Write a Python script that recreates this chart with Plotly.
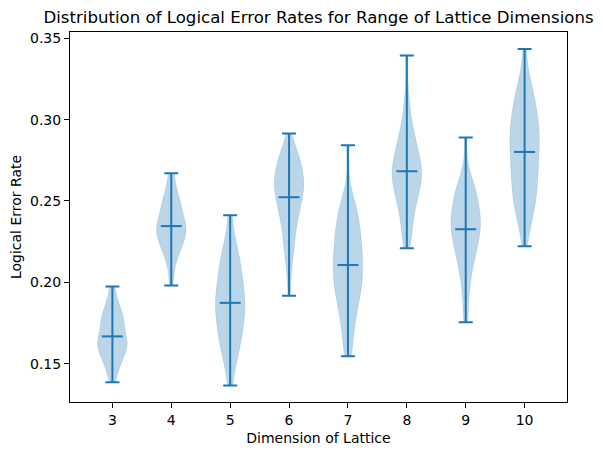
import plotly.graph_objects as go
import numpy as np

# Lattice dimensions and sampled logical error rates (estimated from the chart)
dims = [3, 4, 5, 6, 7, 8, 9, 10]

rates_3 = [0.1385, 0.1425, 0.1465, 0.1485, 0.151, 0.153, 0.1545, 0.1555, 0.157, 0.1585,
           0.1595, 0.1605, 0.1615, 0.1625, 0.1635, 0.1645, 0.1655, 0.1665, 0.168, 0.1695,
           0.171, 0.173, 0.1745, 0.176, 0.1765, 0.178, 0.1795, 0.1815, 0.1835, 0.1855,
           0.1875, 0.192, 0.1974]
rates_4 = [0.198, 0.2075, 0.2125, 0.2165, 0.2185, 0.221, 0.2225, 0.224, 0.2255, 0.227,
           0.2285, 0.2295, 0.231, 0.232, 0.233, 0.234, 0.2345, 0.236, 0.2375, 0.239,
           0.2405, 0.2425, 0.2445, 0.246, 0.248, 0.2495, 0.2515, 0.2535, 0.2575, 0.2625,
           0.2671]
rates_5 = [0.1366, 0.146, 0.153, 0.157, 0.1585, 0.162, 0.165, 0.168, 0.170, 0.172,
           0.175, 0.1775, 0.1795, 0.181, 0.183, 0.185, 0.187, 0.189, 0.191, 0.193,
           0.195, 0.197, 0.199, 0.202, 0.205, 0.2075, 0.2095, 0.2125, 0.2155, 0.2185,
           0.2235, 0.2275, 0.2413]
rates_6 = [0.1918, 0.206, 0.213, 0.218, 0.222, 0.225, 0.228, 0.232, 0.235, 0.238,
           0.24, 0.241, 0.243, 0.245, 0.247, 0.249, 0.251, 0.252, 0.254, 0.255,
           0.256, 0.257, 0.258, 0.259, 0.261, 0.262, 0.263, 0.264, 0.266, 0.267,
           0.268, 0.269, 0.271, 0.273, 0.275, 0.276, 0.278, 0.279, 0.281, 0.284,
           0.2915]
rates_7 = [0.1545, 0.160, 0.166, 0.173, 0.177, 0.182, 0.185, 0.188, 0.191, 0.194,
           0.196, 0.199, 0.200, 0.201, 0.204, 0.206, 0.209, 0.211, 0.213, 0.215,
           0.217, 0.219, 0.221, 0.224, 0.226, 0.229, 0.231, 0.234, 0.236, 0.239,
           0.242, 0.245, 0.248, 0.252, 0.2842]
rates_8 = [0.221, 0.227, 0.232, 0.235, 0.242, 0.245, 0.248, 0.251, 0.253, 0.255,
           0.257, 0.259, 0.261, 0.263, 0.265, 0.267, 0.268, 0.268, 0.269, 0.271,
           0.273, 0.275, 0.277, 0.279, 0.282, 0.285, 0.287, 0.289, 0.293, 0.297,
           0.305, 0.315, 0.3395]
rates_9 = [0.1754, 0.186, 0.196, 0.203, 0.207, 0.212, 0.215, 0.218, 0.221, 0.223,
           0.225, 0.227, 0.229, 0.231, 0.233, 0.235, 0.236, 0.238, 0.239, 0.241,
           0.243, 0.245, 0.247, 0.249, 0.252, 0.255, 0.256, 0.258, 0.262, 0.265,
           0.2891]
rates_10 = [0.2222, 0.233, 0.237, 0.242, 0.245, 0.248, 0.25, 0.252, 0.255, 0.258,
            0.26, 0.262, 0.265, 0.268, 0.27, 0.271, 0.274, 0.276, 0.279, 0.281,
            0.283, 0.285, 0.287, 0.289, 0.291, 0.293, 0.295, 0.297, 0.299, 0.302,
            0.304, 0.306, 0.309, 0.312, 0.315, 0.318, 0.322, 0.327, 0.3434]

all_rates = [rates_3, rates_4, rates_5, rates_6, rates_7, rates_8, rates_9, rates_10]

blue = "#1f77b4"
fig = go.Figure()

# Violin bodies (a bit under Scott's rule so the shapes keep their bumps)
for d, r in zip(dims, all_rates):
    bw = 0.75 * np.std(r, ddof=1) * len(r) ** (-1 / 5)
    fig.add_trace(go.Violin(
        x=[d] * len(r), y=r,
        width=0.5, scalemode="width", spanmode="hard", bandwidth=bw,
        points=False, box_visible=False, meanline_visible=False,
        fillcolor="rgba(31,119,180,0.3)",
        line=dict(color="rgba(31,119,180,0.3)", width=0.5),
        hoverinfo="skip", showlegend=False,
    ))

# Min/max whiskers with caps, plus mean markers
means = [np.mean(r) for r in all_rates]
mins = [np.min(r) for r in all_rates]
maxs = [np.max(r) for r in all_rates]

fig.add_trace(go.Scatter(
    x=dims, y=means, mode="markers",
    marker=dict(symbol="line-ew", size=15, line=dict(color=blue, width=2)),
    error_y=dict(type="data", symmetric=False,
                 array=[mx - m for mx, m in zip(maxs, means)],
                 arrayminus=[m - mn for m, mn in zip(means, mins)],
                 color=blue, thickness=2, width=7),
    hoverinfo="skip", showlegend=False,
))

fig.update_layout(
    width=603, height=455,
    margin=dict(l=70, r=36, t=32, b=53),
    paper_bgcolor="white", plot_bgcolor="white",
    violinmode="overlay",
    font=dict(family="DejaVu Sans", size=14, color="black"),
    title=dict(text="Distribution of Logical Error Rates for Range of Lattice Dimensions",
               x=0.5, xanchor="center", xref="paper",
               y=1 - 17 / 455, yanchor="middle", yref="container",
               font=dict(size=16.6)),
)

fig.update_xaxes(
    range=[2.28, 10.72], tickvals=dims, ticktext=[str(d) for d in dims],
    showline=True, linecolor="black", linewidth=1, mirror=True, automargin=False,
    ticks="outside", ticklen=5, tickcolor="black", showgrid=False, zeroline=False,
    tickfont=dict(size=14),
    title=dict(text="Dimension of Lattice", standoff=6, font=dict(size=14)),
)
fig.update_yaxes(
    range=[0.1264, 0.3539], dtick=0.05, tick0=0.15, tickformat=".2f",
    showline=True, linecolor="black", linewidth=1, mirror=True, automargin=False,
    ticks="outside", ticklen=5, tickcolor="black", showgrid=False, zeroline=False,
    tickfont=dict(size=14),
    title=dict(text="Logical Error Rate", standoff=5, font=dict(size=14)),
)

fig.write_html("out.html", config={"displayModeBar": False},
               post_script="document.body.style.margin = '0';")
